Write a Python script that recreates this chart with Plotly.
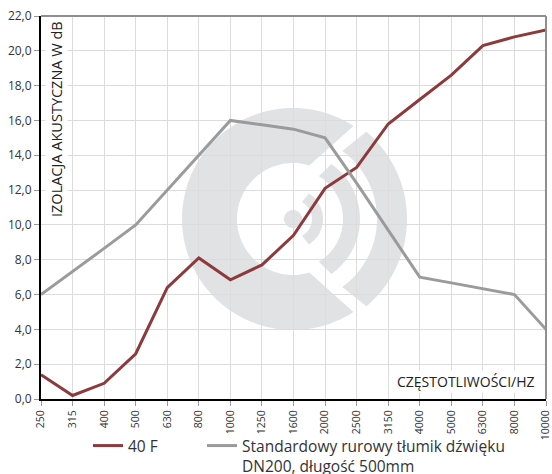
import math
import plotly.graph_objects as go

categories = ["250", "315", "400", "500", "630", "800", "1000", "1250", "1600",
              "2000", "2500", "3150", "4000", "5000", "6300", "8000", "10000"]
series_40f = [1.4, 0.2, 0.9, 2.6, 6.4, 8.1, 6.85, 7.7, 9.4,
              12.1, 13.3, 15.8, 17.2, 18.6, 20.3, 20.8, 21.2]
series_std = [6.0, 7.3, 8.65, 10.0, 12.0, 14.0, 16.0, 15.75, 15.5,
              15.0, 12.4, 9.7, 7.0, 6.67, 6.33, 6.0, 4.0]
name_40f = "40 F"
name_std = "Standardowy rurowy tłumik dźwięku<br>DN200, długość 500mm"
y_title = "IZOLACJA AKUSTYCZNA W dB"
x_title = "CZĘSTOTLIWOŚCI/HZ"

W, H = 552, 474
ML, MR, MT, MB = 41, 6, 16, 75
PW, PH = W - ML - MR, H - MT - MB

RED = "#8c3a3b"
GRAY = "#9b9b9b"
LOGO = "#e1e2e4"
FONT = "Open Sans"


def px2paper(x, y):
    return (x - ML) / PW, (MT + PH - y) / PH


def poly_path(points):
    s = ""
    for i, (x, y) in enumerate(points):
        px, py = px2paper(x, y)
        s += ("M" if i == 0 else "L") + f"{px:.5f},{py:.5f} "
    return s + "Z"


def arc_pts(cx, cy, r, a0, a1, n=60):
    pts = []
    for i in range(n + 1):
        a = math.radians(a0 + (a1 - a0) * i / n)
        pts.append((cx + r * math.cos(a), cy - r * math.sin(a)))
    return pts


CX, CY = 293, 219
shapes = []
outer = arc_pts(CX, CY, 111, 57, 303, 120)
inner = arc_pts(CX, CY, 56, 287, 73, 80)
shapes.append(dict(type="path", path=poly_path(outer + inner), xref="paper", yref="paper",
                   fillcolor=LOGO, line=dict(width=0), layer="below"))
shapes.append(dict(type="path", path=poly_path(arc_pts(CX, CY, 9, 0, 360, 40)), xref="paper",
                   yref="paper", fillcolor=LOGO, line=dict(width=0), layer="below"))
for r0, r1, span in [(19, 30, 58), (50, 67, 55), (84, 114, 50)]:
    pts = arc_pts(CX, CY, r1, span, -span, 60) + arc_pts(CX, CY, r0, -span - 4, span + 4, 60)
    shapes.append(dict(type="path", path=poly_path(pts), xref="paper", yref="paper",
                       fillcolor=LOGO, line=dict(width=0), layer="below"))
shapes.append(dict(type="line", xref="paper", yref="paper", x0=0, x1=1, y0=1, y1=1,
                   line=dict(color="#8f8f8f", width=2), layer="above"))
shapes.append(dict(type="line", xref="paper", yref="paper", x0=1, x1=1, y0=0, y1=1,
                   line=dict(color="#8f8f8f", width=2), layer="above"))

fig = go.Figure()
fig.add_trace(go.Scatter(x=categories, y=series_40f, name=name_40f, mode="lines",
                         line=dict(color=RED, width=3), legend="legend"))
fig.add_trace(go.Scatter(x=categories, y=series_std, name=name_std, mode="lines",
                         line=dict(color=GRAY, width=3), legend="legend2"))

leg_common = dict(orientation="h", yanchor="top", valign="top",
                  font=dict(size=15.5, color="#333333", family=FONT),
                  bgcolor="rgba(0,0,0,0)")
fig.update_layout(
    width=W, height=H,
    margin=dict(l=ML, r=MR, t=MT, b=MB, autoexpand=False),
    paper_bgcolor="white", plot_bgcolor="rgba(0,0,0,0)",
    separators=",.",
    font=dict(family=FONT, color="#333333"),
    shapes=shapes,
    showlegend=True,
    legend=dict(x=px2paper(88, 0)[0], y=px2paper(0, 429)[1], xanchor="left", **leg_common),
    legend2=dict(x=px2paper(202, 0)[0], y=px2paper(0, 429)[1], xanchor="left", **leg_common),
    annotations=[
        dict(text=y_title, textangle=-90, xref="paper", yref="paper",
             x=px2paper(56, 0)[0], y=px2paper(0, 19)[1], xanchor="center", yanchor="top",
             showarrow=False, bgcolor="white", font=dict(size=14.5, color="#222222", family=FONT)),
        dict(text=x_title, xref="paper", yref="paper",
             x=px2paper(537, 0)[0], y=px2paper(0, 381)[1], xanchor="right", yanchor="middle",
             showarrow=False, bgcolor="white", font=dict(size=14, color="#222222", family=FONT)),
    ],
)
fig.update_xaxes(type="category", range=[0, 16], tickangle=-90, automargin=False,
                 showgrid=True, gridcolor="#dcdcdc", gridwidth=1,
                 showline=True, linecolor="black", linewidth=2,
                 ticks="outside", ticklen=5, tickcolor="#999999",
                 tickfont=dict(size=10.5, color="#333333", family=FONT), zeroline=False)
fig.update_yaxes(range=[0, 22], dtick=2, tick0=0, tickformat=".1f", automargin=False,
                 showgrid=True, gridcolor="#dcdcdc", gridwidth=1,
                 showline=True, linecolor="black", linewidth=2,
                 ticks="outside", ticklen=5, tickcolor="#999999",
                 tickfont=dict(size=12, color="#333333", family=FONT), zeroline=False)

fig.write_html("out.html", config={"displayModeBar": False},
               post_script="document.body.style.margin='0';document.body.style.overflow='hidden';")
